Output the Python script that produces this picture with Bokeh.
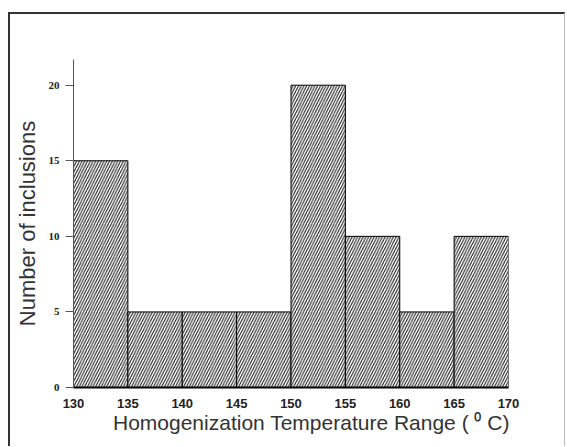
from bokeh.plotting import figure
from bokeh.embed import file_html
from bokeh.resources import INLINE
from bokeh.models import FixedTicker

bin_left = [130, 135, 140, 145, 150, 155, 160, 165]
bin_right = [135, 140, 145, 150, 155, 160, 165, 170]
counts = [15, 5, 5, 5, 20, 10, 5, 10]
x_ticks = [130, 135, 140, 145, 150, 155, 160, 165, 170]
y_ticks = [0, 5, 10, 15, 20]

p = figure(width=557, height=434, output_backend="svg", toolbar_location=None,
           x_range=(130, 170), y_range=(0, 21.7),
           min_border_left=63, min_border_right=59, min_border_top=45, min_border_bottom=61)
p.styles = {"margin-left": "8px", "margin-top": "12px",
            "border-left": "2px solid #333", "border-top": "2px solid #333",
            "border-right": "1px solid #bbb"}
p.outline_line_color = None
p.xgrid.visible = False
p.ygrid.visible = False

p.quad(left=bin_left, right=bin_right, top=counts, bottom=0,
       fill_color="white", line_color="black", line_width=1,
       hatch_pattern="/", hatch_color="#111111", hatch_scale=5.5, hatch_weight=1.0)

p.xaxis.ticker = FixedTicker(ticks=x_ticks)
p.yaxis.ticker = FixedTicker(ticks=y_ticks)
p.xaxis.axis_label = "\u00a0" * 7 + "Homogenization Temperature Range ( \u2070 C)"
p.yaxis.axis_label = "Number of inclusions"
for ax in (p.xaxis[0], p.yaxis[0]):
    ax.axis_label_text_font = "Liberation Sans"
    ax.axis_label_text_font_style = "normal"
    ax.axis_label_text_color = "#333333"
    ax.major_label_text_font_style = "bold"
    ax.major_label_text_color = "#222222"
    ax.minor_tick_line_color = None
p.xaxis.axis_label_text_font_size = "21px"
p.yaxis.axis_label_text_font_size = "22px"
p.xaxis.major_label_text_font = "Liberation Sans"
p.xaxis.major_label_text_font_size = "13px"
p.xaxis.axis_line_width = 2
p.xaxis.axis_line_color = "black"
p.xaxis.major_tick_line_color = None
p.xaxis.major_label_standoff = 5
p.xaxis.axis_label_standoff = 0
p.yaxis.major_label_text_font = "Liberation Serif"
p.yaxis.major_label_text_font_size = "11px"
p.yaxis.axis_line_color = "#555555"
p.yaxis.major_tick_line_color = "#555555"
p.yaxis.major_tick_out = 8
p.yaxis.major_tick_in = 0
p.yaxis.major_label_standoff = 6
p.yaxis.axis_label_standoff = 6

open("out.html", "w").write(file_html(p, INLINE))
